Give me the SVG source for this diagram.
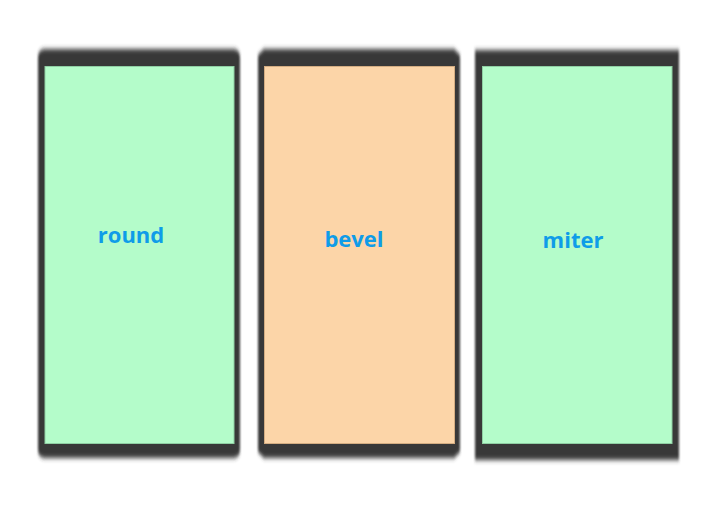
<svg xmlns="http://www.w3.org/2000/svg" width="726" height="526" viewBox="0 0 726 526">
  <defs>
    <filter id="soft" x="-10%" y="-10%" width="120%" height="120%">
      <feGaussianBlur stdDeviation="1 2.5"/>
    </filter>
    <style>
      .frame { fill: #383838; filter: url(#soft); }
      .green { fill: #b4fcca; stroke: #8fcfa3; stroke-width: 1; }
      .orange { fill: #fcd5a8; stroke: #d4ad82; stroke-width: 1; }
      .label { font-family: "Open Sans", "Noto Sans", "Liberation Sans", sans-serif; font-weight: bold; font-size: 22px; fill: #0f9ce8; text-anchor: middle; }
    </style>
  </defs>
  <rect width="726" height="526" fill="#ffffff"/>
  <g id="round">
    <rect class="frame" x="38" y="49" width="202" height="409" rx="7" ry="7"/>
    <rect class="green" x="45" y="66.5" width="189" height="377"/>
    <text class="label" x="131" y="243">round</text>
  </g>
  <g id="bevel">
    <polygon class="frame" points="264,49 454,49 460,55 460,452 454,458 264,458 258,452 258,55"/>
    <rect class="orange" x="264.5" y="66.5" width="190" height="377"/>
    <text class="label" x="354" y="247">bevel</text>
  </g>
  <g id="miter">
    <rect class="frame" x="475" y="50" width="204" height="410"/>
    <rect class="green" x="482.5" y="66.5" width="189.5" height="377"/>
    <text class="label" x="573" y="248">miter</text>
  </g>
</svg>
